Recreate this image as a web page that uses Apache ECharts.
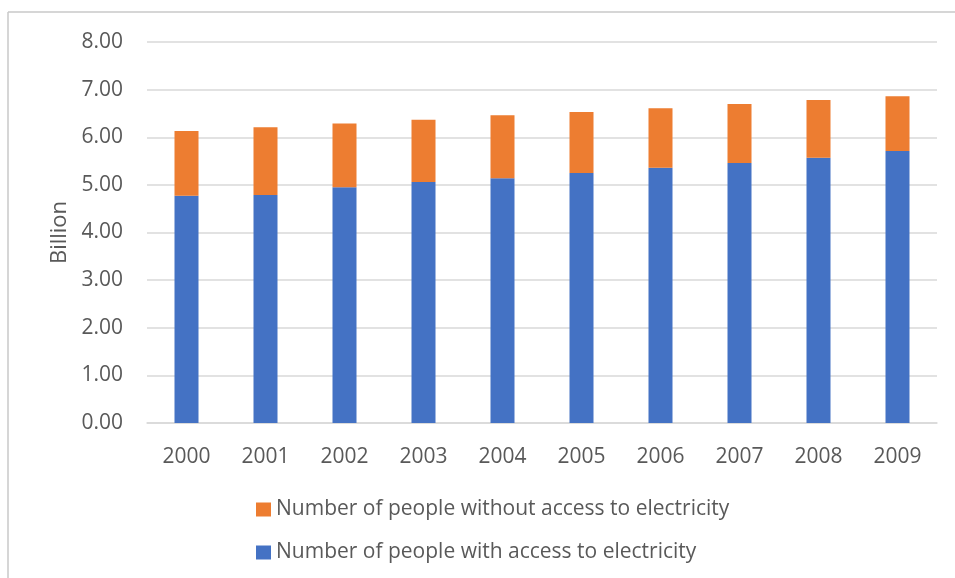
<!DOCTYPE html>
<html>
<head>
<meta charset="utf-8">
<script src="https://cdn.jsdelivr.net/npm/echarts@6/dist/echarts.min.js"></script>
<style>
  html, body { margin: 0; padding: 0; background: #fff; }
  #chart { width: 955px; height: 578px; }
</style>
</head>
<body>
<div id="chart"></div>
<script>
const categories = ['2000','2001','2002','2003','2004','2005','2006','2007','2008','2009'];
const withAccess = [4.77, 4.79, 4.95, 5.06, 5.14, 5.25, 5.36, 5.46, 5.57, 5.71];
const withoutAccess = [1.36, 1.42, 1.34, 1.31, 1.32, 1.28, 1.25, 1.24, 1.21, 1.15];
const seriesNames = ['Number of people without access to electricity', 'Number of people with access to electricity'];
const yTicks = { min: 0, max: 8, interval: 1 };

const FONT = 'Open Sans';
const TXT = '#595959';
const chart = echarts.init(document.getElementById('chart'), null, { renderer: 'canvas' });
chart.setOption({
  animation: false,
  backgroundColor: '#fff',
  textStyle: { fontFamily: FONT },
  graphic: [
    { type: 'line', shape: { x1: 8, y1: 12, x2: 955, y2: 12 }, style: { stroke: '#c8c8c8', lineWidth: 1.5 } },
    { type: 'line', shape: { x1: 8, y1: 12, x2: 8, y2: 578 }, style: { stroke: '#c8c8c8', lineWidth: 1.5 } }
  ],
  grid: { left: 147, right: 18, top: 42, bottom: 155, containLabel: false },
  legend: {
    orient: 'vertical',
    left: 251,
    top: 494,
    itemWidth: 15,
    itemHeight: 14,
    itemGap: 22,
    icon: 'rect',
    data: [seriesNames[0], seriesNames[1]],
    textStyle: { fontFamily: FONT, fontSize: 21, color: TXT }
  },
  xAxis: {
    type: 'category',
    data: categories,
    axisTick: { show: false },
    axisLine: { lineStyle: { color: '#d9d9d9', width: 1.5 } },
    axisLabel: { fontFamily: FONT, fontSize: 21, color: TXT, margin: 24 }
  },
  yAxis: {
    type: 'value',
    min: yTicks.min, max: yTicks.max, interval: yTicks.interval,
    name: 'Billion',
    nameLocation: 'middle',
    nameGap: 71,
    nameRotate: 90,
    nameTextStyle: { fontFamily: FONT, fontSize: 22, color: TXT },
    axisLine: { show: false },
    axisTick: { show: false },
    splitLine: { lineStyle: { color: '#d9d9d9', width: 1.5 } },
    axisLabel: { fontFamily: FONT, fontSize: 21, color: TXT, margin: 24, formatter: v => v.toFixed(2) }
  },
  series: [
    {
      name: seriesNames[1], type: 'bar', stack: 'total', data: withAccess,
      barWidth: 24, itemStyle: { color: '#4472C4' }
    },
    {
      name: seriesNames[0], type: 'bar', stack: 'total', data: withoutAccess,
      barWidth: 24, itemStyle: { color: '#ED7D31' }
    }
  ]
});
</script>
</body>
</html>
